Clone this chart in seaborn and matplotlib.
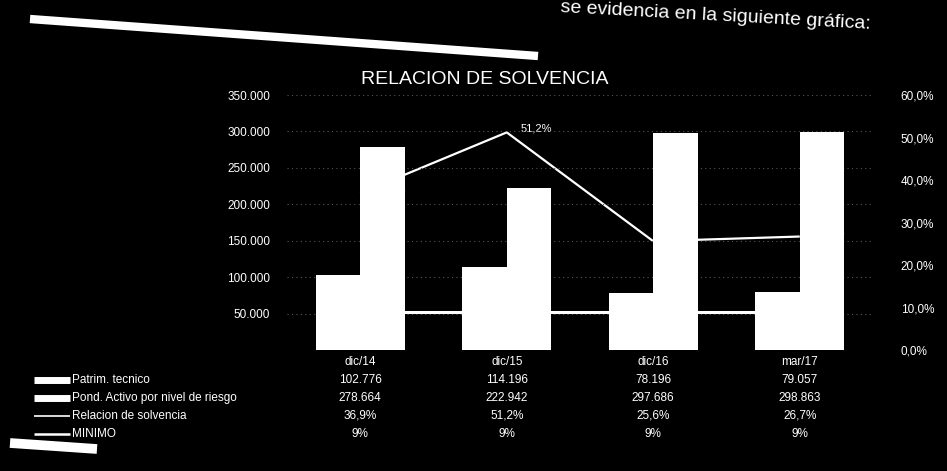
import matplotlib
matplotlib.use("Agg")
import matplotlib.pyplot as plt
import matplotlib.ticker as mticker
import matplotlib.transforms as mtransforms
from matplotlib.lines import Line2D
import numpy as np
import pandas as pd
import seaborn as sns

# ---------------------------------------------------------------------------
# Data read off the (scanned, inverted) reference
# ---------------------------------------------------------------------------
periodos = ["dic/14", "dic/15", "dic/16", "mar/17"]
patrim_tecnico = [102776, 114196, 78196, 79057]
pond_activo = [278664, 222942, 297686, 298863]
relacion_solvencia = [36.9, 51.2, 25.6, 26.7]
minimo = [9, 9, 9, 9]

series_barras = ["Patrim. tecnico", "Pond. Activo por nivel de riesgo"]
series_lineas = ["Relacion de solvencia", "MINIMO"]
ticks_izq = [50000, 100000, 150000, 200000, 250000, 300000, 350000]
ticks_der = [0, 10, 20, 30, 40, 50, 60]

W, H = 947, 471


def fx(px):
    return px / W


def fy(py):
    return 1 - py / H


def miles(v):
    return f"{v:,.0f}".replace(",", ".")


def pct(v, dec=1):
    return f"{v:.{dec}f}%".replace(".", ",")


sns.set_theme(style="dark", rc={"axes.facecolor": "black",
                                "figure.facecolor": "black"})
plt.rcParams["font.family"] = ["Liberation Sans", "DejaVu Sans"]

fig = plt.figure(figsize=(W / 100, H / 100), dpi=100, facecolor="black")
ax = fig.add_axes([fx(287), fy(350), fx(873) - fx(287), (350 - 95) / H])
ax2 = ax.twinx()

# bars on the primary axis (drawn above the lines)
barras = pd.DataFrame({
    "periodo": periodos * 2,
    "serie": [series_barras[0]] * len(periodos) + [series_barras[1]] * len(periodos),
    "valor": patrim_tecnico + pond_activo,
})
sns.barplot(data=barras, x="periodo", y="valor", hue="serie",
            palette=["white", "white"], saturation=1, width=0.61, gap=0,
            errorbar=None, legend=False, linewidth=0, ax=ax)

# lines on the secondary axis (drawn behind the bars)
x_pos = np.arange(len(periodos))
sns.lineplot(x=x_pos, y=relacion_solvencia, ax=ax2, color="white",
             linewidth=1.6, solid_capstyle="butt")
sns.lineplot(x=x_pos, y=minimo, ax=ax2, color="white", linewidth=2.2,
             solid_capstyle="butt")
for i, v in enumerate(relacion_solvencia):
    ax2.annotate(pct(v), (i, v), xytext=(10, 3), textcoords="offset points",
                 ha="left", va="center", color="white", fontsize=8)

ax.set_zorder(2)
ax2.set_zorder(1)
ax.patch.set_visible(False)
ax2.patch.set_facecolor("black")

ax.set_xlim(-0.5, len(periodos) - 0.5)
ax.set_ylim(0, 350000)
ax2.set_ylim(0, 60)
ax.set_yticks(ticks_izq)
ax2.set_yticks(ticks_der)
ax.yaxis.set_major_formatter(mticker.FuncFormatter(lambda v, _: miles(v)))
ax2.yaxis.set_major_formatter(mticker.FuncFormatter(lambda v, _: pct(v)))
ax.tick_params(axis="y", colors="white", length=0, pad=12, labelsize=8.5)
ax2.tick_params(axis="y", colors="white", length=0, pad=20, labelsize=8.5)
ax.tick_params(axis="x", length=0, labelbottom=False)
ax.set_xlabel("")
ax.set_ylabel("")
ax2.set_ylabel("")
ax.grid(axis="y", color="#555555", linestyle=(0, (1, 3)), linewidth=0.8)
ax.grid(axis="x", visible=False)
ax2.grid(False)
ax.set_axisbelow(True)
for a in (ax, ax2):
    for s in a.spines.values():
        s.set_visible(False)

# data table under the categories (Excel style, no borders)
filas = [
    periodos,
    [miles(v) for v in patrim_tecnico],
    [miles(v) for v in pond_activo],
    [pct(v) for v in relacion_solvencia],
    [pct(v, 0) for v in minimo],
]
fila_y = [362, 380, 398, 416, 434]
tr = mtransforms.blended_transform_factory(ax.transData, fig.transFigure)
for fila, ypx in zip(filas, fila_y):
    for i, txt in enumerate(fila):
        ax.text(i, fy(ypx), txt, transform=tr, ha="center", va="center",
                color="white", fontsize=8.5, clip_on=False)

# legend keys as row labels of the table
claves = [(series_barras[0], 5.0), (series_barras[1], 5.0),
          (series_lineas[0], 1.2), (series_lineas[1], 1.8)]
for (nombre, lw), ypx in zip(claves, fila_y[1:]):
    fig.add_artist(Line2D([fx(34), fx(70)], [fy(ypx), fy(ypx)], color="white",
                          linewidth=lw, solid_capstyle="butt",
                          transform=fig.transFigure))
    fig.text(fx(72), fy(ypx), nombre, ha="left", va="center", color="white",
             fontsize=8.5)

# title and surrounding scanned text
fig.text(fx(485), fy(80), "RELACION DE SOLVENCIA", ha="center", va="center",
         color="white", fontsize=14)
fig.text(fx(870), fy(29), "se evidencia en la siguiente gráfica:", ha="right",
         va="baseline", rotation=-3.1, rotation_mode="anchor", color="white",
         fontsize=14)
# smudged lines of the scan
fig.add_artist(Line2D([fx(30), fx(538)], [fy(19), fy(56)], color="white",
                      linewidth=6, solid_capstyle="butt", transform=fig.transFigure))
fig.add_artist(Line2D([fx(10), fx(97)], [fy(443), fy(449)], color="white",
                      linewidth=7, solid_capstyle="butt", transform=fig.transFigure))

fig.savefig("out.png", dpi=100, facecolor="black")
